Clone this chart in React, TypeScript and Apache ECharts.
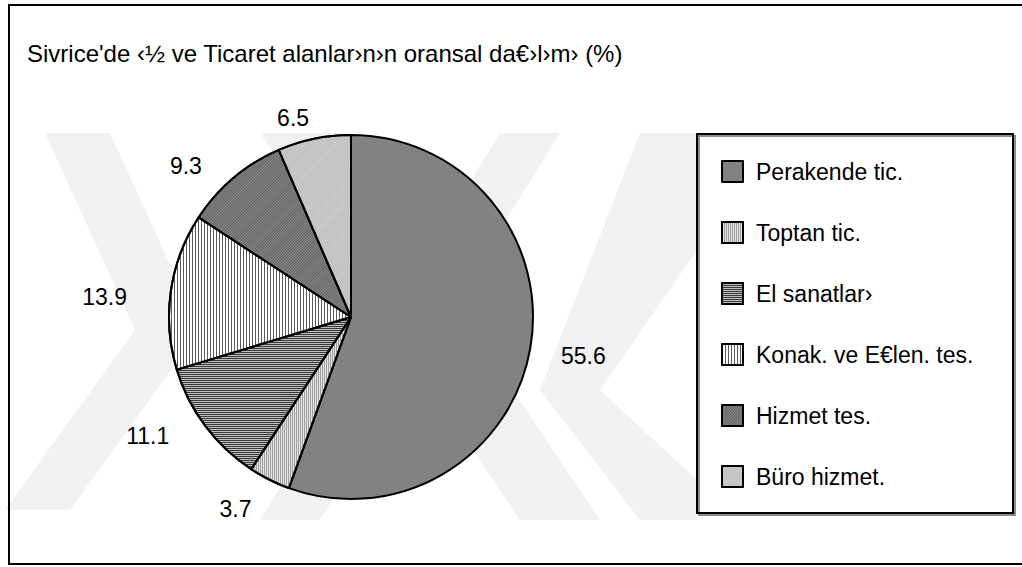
import React, { useEffect, useRef } from "react";
import * as echarts from "echarts";

const titleText = "Sivrice'de ‹½ ve Ticaret alanlar›n›n oransal da€›l›m› (%)";
const categories = [
  "Perakende tic.",
  "Toptan tic.",
  "El sanatlar›",
  "Konak. ve E€len. tes.",
  "Hizmet tes.",
  "Büro hizmet.",
];
const values = [55.6, 3.7, 11.1, 13.9, 9.3, 6.5];

// manual label placement tweaks (style only), in pixels
const labelNudgeX = [-4, 6, -5, -9, -4, 14];
const labelNudgeY = [4, 11, -2, 9, 4, -1];

const FONT = "'Liberation Sans', Arial, sans-serif";

const sliceStyles: any[] = [
  { color: "#828282" },
  {
    color: "#e4e4e4",
    decal: { symbol: "rect", symbolSize: 1, dashArrayX: [1, 1], dashArrayY: [4, 0], color: "#a0a0a0" },
  },
  {
    color: "#bdbdbd",
    decal: { symbol: "rect", symbolSize: 1, dashArrayX: [4, 0], dashArrayY: [1, 1], color: "#3a3a3a" },
  },
  {
    color: "#ffffff",
    decal: { symbol: "rect", symbolSize: 1, dashArrayX: [1, 2], dashArrayY: [4, 0], color: "#5a5a5a" },
  },
  {
    color: "#8c8c8c",
    decal: { symbol: "rect", symbolSize: 1, dashArrayX: [4, 0], dashArrayY: [1, 1], rotation: -Math.PI / 4, color: "#5e5e5e" },
  },
  {
    color: "#d6d6d6",
    decal: { symbol: "rect", symbolSize: 1, dashArrayX: [4, 0], dashArrayY: [1, 1], rotation: -Math.PI / 4, color: "#b4b4b4" },
  },
];

export default function App() {
  const ref = useRef<HTMLDivElement>(null);
  useEffect(() => {
    if (!ref.current) return;
    const chart = echarts.init(ref.current, undefined, { renderer: "svg" });
    const wm = "#f1f1f1";
    chart.setOption({
      animation: false,
      backgroundColor: "#ffffff",
      title: {
        text: titleText,
        left: 27,
        top: 41,
        padding: 0,
        textStyle: { fontSize: 24, fontWeight: "normal", color: "#000", fontFamily: FONT },
      },
      legend: {
        orient: "vertical",
        left: 721,
        top: 160,
        padding: 0,
        icon: "rect",
        itemWidth: 21,
        itemHeight: 21,
        itemGap: 38,
        data: categories,
        textStyle: { fontSize: 23, color: "#000", fontFamily: FONT, padding: [0, 0, 0, 8] },
      },
      graphic: [
        // faint watermark bands
        { type: "polygon", z: -10, shape: { points: [[45, 133], [110, 133], [200, 330], [70, 510], [5, 510], [135, 330]] }, style: { fill: wm } },
        { type: "polygon", z: -10, shape: { points: [[260, 133], [340, 133], [600, 520], [520, 520]] }, style: { fill: wm } },
        { type: "polygon", z: -10, shape: { points: [[500, 133], [560, 133], [320, 520], [260, 520]] }, style: { fill: wm } },
        { type: "polygon", z: -10, shape: { points: [[640, 133], [697, 133], [697, 250], [600, 390], [697, 480], [697, 520], [640, 520], [540, 390]] }, style: { fill: wm } },
        // outer frame
        { type: "rect", z: 10, shape: { x: 9, y: 5, width: 1030, height: 559 }, style: { fill: "none", stroke: "#000", lineWidth: 2 } },
        // legend box
        {
          type: "rect",
          z: 10,
          shape: { x: 697, y: 134, width: 316, height: 379 },
          style: { fill: "none", stroke: "#000", lineWidth: 2, shadowColor: "rgba(0,0,0,0.45)", shadowOffsetX: 2, shadowOffsetY: 2, shadowBlur: 0 },
        },
      ],
      series: [
        {
          type: "pie",
          center: [351, 317],
          radius: 182,
          startAngle: 90,
          clockwise: true,
          avoidLabelOverlap: false,
          itemStyle: { borderColor: "#000", borderWidth: 2 },
          label: {
            show: true,
            position: "outside",
            formatter: "{c}",
            fontSize: 23,
            color: "#000",
            fontFamily: FONT,
          },
          labelLine: { show: false, length: 20, length2: 10 },
          labelLayout: (p: any) => ({ dx: labelNudgeX[p.dataIndex], dy: labelNudgeY[p.dataIndex] }),
          emphasis: { disabled: true },
          data: categories.map((name, i) => ({
            name,
            value: values[i],
            itemStyle: sliceStyles[i],
          })),
        },
      ],
    });
    return () => chart.dispose();
  }, []);
  return (
    <div
      ref={ref}
      style={{ position: "fixed", left: 0, top: 0, width: 1022, height: 567 }}
    />
  );
}
